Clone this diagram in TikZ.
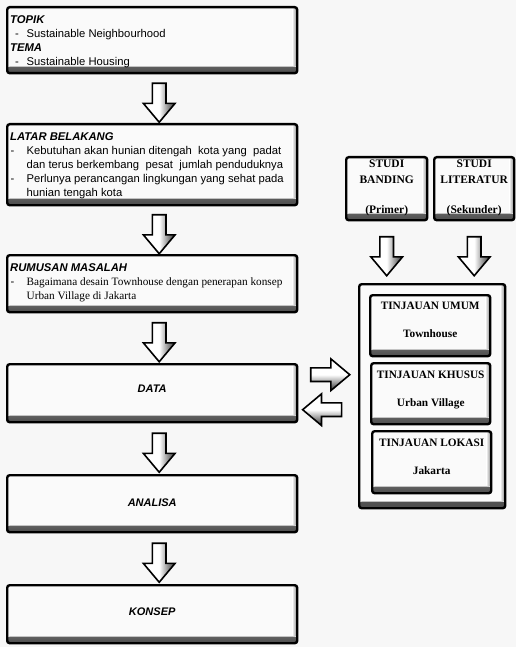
\documentclass[tikz,border=0pt]{standalone}
\usepackage{fontspec}
\setmainfont{Liberation Serif}
\setsansfont{Liberation Sans}
\usetikzlibrary{shapes.arrows,calc}
\tikzstyle{kotak} = [draw, line width=2.4pt, rounded corners=2.5pt, fill=white!98!black, inner sep=0pt, anchor=north west,
	path picture={
		\shade[top color=white!98!black, bottom color=black!70] ([yshift=6.5pt]path picture bounding box.south west) rectangle (path picture bounding box.south east);
		\shade[left color=white!98!black, right color=black!50] ([xshift=-5pt]path picture bounding box.north east) rectangle ([yshift=6.5pt]path picture bounding box.south east);
	}]
\tikzstyle{panah} = [draw, line width=1.6pt, single arrow, single arrow head extend=9pt, single arrow tip angle=80, minimum height=39pt, minimum width=30pt, inner sep=6pt]
\tikzstyle{panahbawah} = [panah, shape border rotate=270, left color=white, right color=black!80, middle color=white]
\tikzstyle{panahkanan} = [panah, top color=white, bottom color=black!80, middle color=white]
\tikzstyle{panahkiri} = [panahkanan, shape border rotate=180]
\tikzstyle{isi} = [anchor=north west, inner sep=0pt, font=\sffamily\fontsize{11.25}{13.9}\selectfont]
\tikzstyle{judul} = [inner sep=0pt, font=\sffamily\bfseries\itshape\fontsize{11}{13.9}\selectfont]
\tikzstyle{studi} = [anchor=north, inner sep=0pt, align=center, font=\bfseries\fontsize{11.5}{16}\selectfont]
\tikzstyle{tinjau} = [anchor=north, inner sep=0pt, align=center, font=\bfseries\fontsize{11.3}{14}\selectfont]

\begin{document}
\begin{tikzpicture}[x=1pt, y=-1pt]
	\fill[white!97!black] (0,0) rectangle (516,647);
	\useasboundingbox (0,0) rectangle (516,647);

	% kolom kiri
	\node[kotak, minimum width=290pt, minimum height=66pt] (topik) at (6,6) {};
	\node[kotak, minimum width=290pt, minimum height=81pt] (latar) at (6,123) {};
	\node[kotak, minimum width=290pt, minimum height=57pt] (rumusan) at (6,254) {};
	\node[kotak, minimum width=290pt, minimum height=58pt] (data) at (6,363) {};
	\node[kotak, minimum width=290pt, minimum height=57pt] (analisa) at (6,474) {};
	\node[kotak, minimum width=290pt, minimum height=58pt] (konsep) at (6,584) {};

	\node[isi] (teks-topik) at ([xshift=4pt,yshift=-7.5pt]topik.north west) {\begin{tabular}{@{}p{16.5pt}@{}l@{}}
		\multicolumn{2}{@{}l@{}}{\bfseries\itshape TOPIK}\\
		\hspace*{5pt}- & Sustainable Neighbourhood\\
		\multicolumn{2}{@{}l@{}}{\bfseries\itshape TEMA}\\
		\hspace*{5pt}- & Sustainable Housing
	\end{tabular}};
	\node[isi] (teks-latar) at ([xshift=4pt,yshift=-7.5pt]latar.north west) {\begin{tabular}{@{}p{16.5pt}@{}l@{}}
		\multicolumn{2}{@{}l@{}}{\bfseries\itshape LATAR BELAKANG}\\
		\hspace*{0.5pt}- & Kebutuhan akan hunian ditengah\ \ kota yang\ \ padat\\
		 & dan terus berkembang\ \ pesat\ \ jumlah penduduknya\\
		\hspace*{0.5pt}- & Perlunya perancangan lingkungan yang sehat pada\\
		 & hunian tengah kota
	\end{tabular}};
	\node[isi] (teks-rumusan) at ([xshift=4pt,yshift=-7.5pt]rumusan.north west) {\begin{tabular}{@{}p{16.5pt}@{}l@{}}
		\multicolumn{2}{@{}l@{}}{\bfseries\itshape RUMUSAN MASALAH}\\
		\hspace*{0.5pt}- & \rmfamily Bagaimana desain Townhouse dengan penerapan konsep\\
		 & \rmfamily Urban Village di Jakarta
	\end{tabular}};
	\node[judul] (teks-data) at ([yshift=4pt]data.center) {DATA};
	\node[judul] (teks-analisa) at ([yshift=1pt]analisa.center) {ANALISA};
	\node[judul] (teks-konsep) at ([yshift=2pt]konsep.center) {KONSEP};

	\node[panahbawah, xshift=7pt] (p1) at ($(topik.south)!0.5!(latar.north)$) {};
	\node[panahbawah, xshift=7pt] (p2) at ($(latar.south)!0.5!(rumusan.north)$) {};
	\node[panahbawah, xshift=7pt] (p3) at ($(rumusan.south)!0.5!(data.north)$) {};
	\node[panahbawah, xshift=7pt] (p4) at ($(data.south)!0.5!(analisa.north)$) {};
	\node[panahbawah, xshift=7pt] (p5) at ($(analisa.south)!0.5!(konsep.north)$) {};

	% kolom kanan
	\node[kotak, minimum width=81pt, minimum height=63pt] (banding) at (345,156) {};
	\node[kotak, minimum width=80pt, minimum height=63pt] (literatur) at (433,156) {};
	\node[kotak, minimum width=146pt, minimum height=224pt] (wadah) at (358,283) {};
	\node[kotak, minimum width=120pt, minimum height=61pt] (umum) at (369,294) {};
	\node[kotak, minimum width=119pt, minimum height=61pt] (khusus) at (370,362) {};
	\node[kotak, minimum width=119pt, minimum height=62pt] (lokasi) at (371,430) {};

	\node[studi] (teks-banding) at ([yshift=-4pt]banding.north) {STUDI\\BANDING\\[14pt](Primer)};
	\node[studi] (teks-literatur) at ([yshift=-4pt]literatur.north) {STUDI\\LITERATUR\\[14pt](Sekunder)};
	\node[tinjau] (teks-umum) at ([yshift=-7.5pt]umum.north) {TINJAUAN UMUM\\[14pt]Townhouse};
	\node[tinjau] (teks-khusus) at ([yshift=-8.5pt]khusus.north) {TINJAUAN KHUSUS\\[14pt]Urban Village};
	\node[tinjau] (teks-lokasi) at ([yshift=-8.5pt]lokasi.north) {TINJAUAN LOKASI\\[14pt]Jakarta};

	\node[panahbawah] (p6) at ($(banding.south)!0.5!(banding.south |- wadah.north)$) {};
	\node[panahbawah] (p7) at ($(literatur.south)!0.5!(literatur.south |- wadah.north)$) {};
	\node[panahkanan, xshift=-2pt, yshift=18.5pt] (p8) at ($(data.east)!0.5!(data.east -| wadah.west)$) {};
	\node[panahkiri, xshift=-2pt, yshift=-16.5pt] (p9) at ($(data.east)!0.5!(data.east -| wadah.west)$) {};
\end{tikzpicture}
\end{document}
